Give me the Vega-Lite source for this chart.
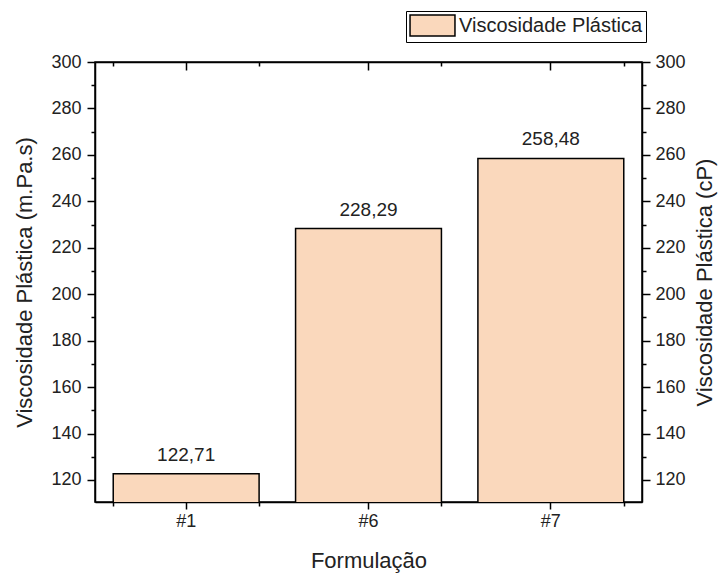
{
  "$schema": "https://vega.github.io/schema/vega-lite/v6.json",
  "width": 547,
  "height": 440,
  "autosize": "none",
  "padding": {"left": 95, "top": 62, "right": 76, "bottom": 72},
  "background": "white",
  "config": {
    "locale": {"number": {"decimal": ",", "thousands": ".", "grouping": [3], "currency": ["R$", ""]}},
    "font": "Liberation Sans",
    "view": {"stroke": "black", "strokeWidth": 1.5},
    "axis": {
      "domainColor": "black", "domainWidth": 1.5,
      "tickColor": "black", "tickWidth": 1.5,
      "labelFont": "Liberation Sans", "labelFontSize": 18, "labelColor": "#222",
      "titleFont": "Liberation Sans", "titleFontSize": 22, "titleFontWeight": "normal", "titleColor": "#222",
      "grid": false
    },
    "legend": {
      "labelFont": "Liberation Sans", "labelFontSize": 20, "labelColor": "#222", "labelLimit": 0
    }
  },
  "data": {
    "values": [
      {"Formulacao": "#1", "valor": 122.71, "serie": "Viscosidade Plástica"},
      {"Formulacao": "#6", "valor": 228.29, "serie": "Viscosidade Plástica"},
      {"Formulacao": "#7", "valor": 258.48, "serie": "Viscosidade Plástica"}
    ]
  },
  "layer": [
    {
      "mark": {"type": "bar", "stroke": "black", "strokeWidth": 1.5, "clip": true},
      "encoding": {
        "x": {"field": "Formulacao", "type": "nominal", "sort": null,
          "scale": {"paddingInner": 0.2, "paddingOuter": 0.1},
          "axis": {"orient": "bottom", "labelAngle": 0, "tickSize": 7, "labelPadding": 3, "title": "Formulação", "titlePadding": 20}},
        "y": {"field": "valor", "type": "quantitative",
          "scale": {"domain": [110.5, 300], "zero": false, "nice": false},
          "axis": {"orient": "left", "values": [120, 140, 160, 180, 200, 220, 240, 260, 280, 300], "tickSize": 8, "labelPadding": 6, "title": "Viscosidade Plástica (m.Pa.s)", "titlePadding": 14}},
        "color": {"field": "serie", "type": "nominal",
          "scale": {"domain": ["Viscosidade Plástica"], "range": ["#FAD8BC"]},
          "legend": {"title": null, "orient": "none", "legendX": 311, "legendY": -51,
            "strokeColor": "black", "padding": 3, "fillColor": "white",
            "symbolType": "M-2.14,-1H2.14V1H-2.14Z", "symbolSize": 441,
            "symbolOffset": 12,
            "symbolStrokeColor": "black", "symbolStrokeWidth": 1.5, "symbolOpacity": 1,
            "labelOffset": 15}}
      }
    },
    {
      "mark": {"type": "text", "baseline": "alphabetic", "dy": -13, "fontSize": 19, "color": "#222"},
      "encoding": {
        "x": {"field": "Formulacao", "type": "nominal", "sort": null,
          "axis": {"orient": "top", "labels": false, "tickSize": -8, "title": null}},
        "y": {"field": "valor", "type": "quantitative",
          "axis": {"orient": "right", "values": [120, 140, 160, 180, 200, 220, 240, 260, 280, 300], "tickSize": 8, "labelPadding": 5, "title": "Viscosidade Plástica (cP)", "titleAngle": 270, "titleBaseline": "top", "titlePadding": 9}},
        "text": {"field": "valor", "type": "quantitative", "format": ".2f"}
      }
    },
    {
      "mark": {"type": "text"},
      "encoding": {
        "x": {"field": "Formulacao", "type": "nominal", "sort": null,
          "axis": {"orient": "bottom", "labels": false, "tickBand": "extent", "tickSize": 4, "domain": false, "title": null}},
        "y": {"field": "valor", "type": "quantitative",
          "axis": {"orient": "left", "values": [130, 150, 170, 190, 210, 230, 250, 270, 290], "labels": false, "tickSize": 4, "domain": false, "title": null}},
        "text": {"value": ""}
      }
    },
    {
      "mark": {"type": "text"},
      "encoding": {
        "x": {"field": "Formulacao", "type": "nominal", "sort": null,
          "axis": {"orient": "top", "labels": false, "tickBand": "extent", "tickSize": -4, "domain": false, "title": null}},
        "y": {"field": "valor", "type": "quantitative",
          "axis": {"orient": "right", "values": [130, 150, 170, 190, 210, 230, 250, 270, 290], "labels": false, "tickSize": 4, "domain": false, "title": null}},
        "text": {"value": ""}
      }
    }
  ],
  "resolve": {"axis": {"x": "independent", "y": "independent"}}
}
